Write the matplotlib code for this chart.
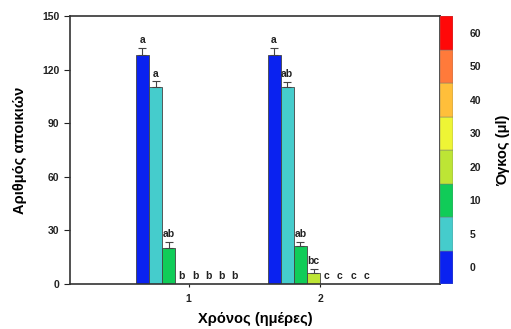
import numpy as np
import matplotlib
matplotlib.use("Agg")
import matplotlib.pyplot as plt

plt.rcParams['font.family'] = ['Liberation Sans', 'DejaVu Sans']
plt.rcParams['font.weight'] = 'bold'

# Data
days = [1, 2]
volumes = ['0', '5', '10', '20', '30', '40', '50', '60']
colors = ['#0a22f0', '#45cccc', '#10cc58', '#bde535', '#eef535', '#ffbf3a', '#ff7a3a', '#ff0808']
colonies = [
    [128, 110, 20, 0, 0, 0, 0, 0],   # day 1
    [128, 110, 21, 6, 0, 0, 0, 0],   # day 2
]
errors = [
    [4, 3.5, 3.5, 0, 0, 0, 0, 0],
    [4, 3, 2.5, 2.5, 0, 0, 0, 0],
]
letters = [
    ['a', 'a', 'ab', 'b', 'b', 'b', 'b', 'b'],
    ['a', 'ab', 'ab', 'bc', 'c', 'c', 'c', 'c'],
]

fig = plt.figure(figsize=(5.11, 3.29), dpi=100)
ax = fig.add_axes([70 / 511, 45 / 329, 370 / 511, 268 / 329])
cax = fig.add_axes([440 / 511, 45 / 329, 13 / 511, 268 / 329])

width = 0.1
n = len(volumes)
for g, day in enumerate(days):
    for i in range(n):
        x = day + (i - (n - 1) / 2) * width
        v = colonies[g][i]
        e = errors[g][i]
        if v > 0:
            ax.bar(x, v, width, color=colors[i], edgecolor='#444444', linewidth=0.6, zorder=2)
            ax.errorbar(x, v, yerr=[[0], [e]], fmt='none', ecolor='#444444',
                        elinewidth=0.8, capsize=3, capthick=0.8, zorder=3)
        ax.text(x, v + e + 1.5, letters[g][i], ha='center', va='bottom',
                fontsize=7.5, fontweight='bold', color='#222222')

ax.set_xlim(0.1, 2.91)
ax.set_ylim(0, 150)
ax.set_xticks(days)
ax.set_yticks(np.arange(0, 151, 30))
ax.tick_params(axis='both', labelsize=7.5, width=0.8, length=4, colors='#222222')
ax.tick_params(axis='x', length=2, pad=5)
for s in ax.spines.values():
    s.set_linewidth(1.2)
    s.set_color('#333333')
ax.set_xlabel('Χρόνος (ημέρες)', fontsize=10.5, fontweight='bold', labelpad=6)
ax.set_ylabel('Αριθμός αποικιών', fontsize=10.5, fontweight='bold')
ax.yaxis.set_label_coords(-0.115, 0.5)

# colour scale
for i in range(n):
    cax.bar(0, 1, 1, bottom=i, color=colors[i], edgecolor='#777777', linewidth=0.3)
cax.set_xlim(-0.5, 0.5)
cax.set_ylim(0, n)
cax.set_xticks([])
cax.yaxis.tick_right()
cax.set_yticks(np.arange(n) + 0.5)
cax.set_yticklabels(volumes)
cax.tick_params(axis='y', length=0, pad=12, labelsize=7.5, colors='#222222')
for s in cax.spines.values():
    s.set_visible(False)
cax.yaxis.set_label_position('right')
cax.set_ylabel('Όγκος (μl)', fontsize=10.5, fontweight='bold')
cax.yaxis.set_label_coords(4.3, 0.5)

fig.savefig('out.png', dpi=100)
